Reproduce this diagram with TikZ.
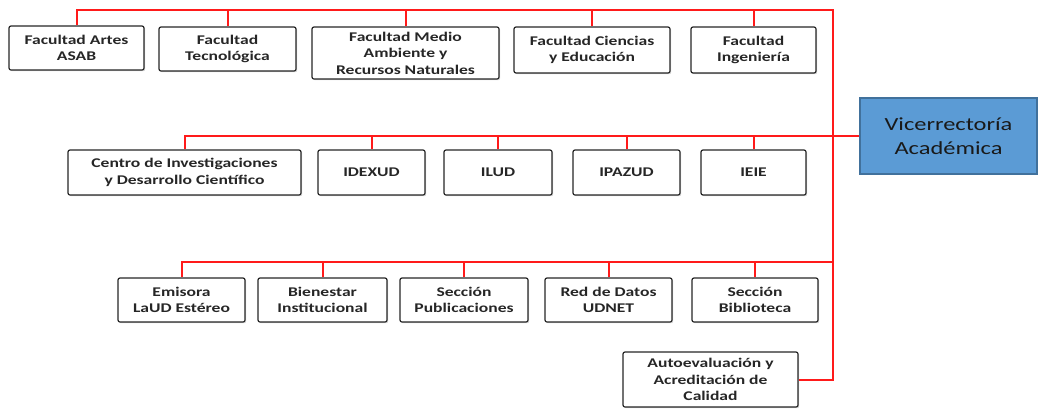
\documentclass[tikz,border=0pt]{standalone}
\usepackage{fontspec}
\newfontfamily\cajafont[FakeStretch=1.32]{Carlito}
\usetikzlibrary{shadows}
\definecolor{rojo}{HTML}{FF1A1A}
\definecolor{azul}{HTML}{5B9BD5}
\definecolor{azulborde}{HTML}{41719C}
\tikzset{
  caja/.style={draw=black!85,line width=1.2pt,rounded corners=2pt,fill=white,
    align=center,inner sep=0pt,text=black!85,
    font=\cajafont\bfseries\fontsize{13.3}{16.5}\selectfont,
    drop shadow={shadow xshift=1.2pt,shadow yshift=-1.2pt,opacity=.35}},
  linea/.style={rojo,line width=2pt}
}
\begin{document}
\begin{tikzpicture}[x=1pt,y=-1pt]
  \useasboundingbox (0,0) rectangle (1041,416);
  % Facultades
  \node[caja,minimum width=135,minimum height=44] (f1) at (76.5,48) {Facultad Artes\\ASAB};
  \node[caja,minimum width=137,minimum height=44] (f2) at (227.5,49) {Facultad\\Tecnológica};
  \node[caja,minimum width=187,minimum height=52] (f3) at (405.5,53) {Facultad Medio\\Ambiente y\\Recursos Naturales};
  \node[caja,minimum width=156,minimum height=46] (f4) at (592,50) {Facultad Ciencias\\y Educación};
  \node[caja,minimum width=125,minimum height=46] (f5) at (753.5,50) {Facultad\\Ingeniería};
  % Institutos
  \node[caja,minimum width=233,minimum height=45] (i1) at (184.5,172.5) {Centro de Investigaciones\\y Desarrollo Científico};
  \node[caja,minimum width=107,minimum height=45] (i2) at (371.5,172.5) {IDEXUD};
  \node[caja,minimum width=108,minimum height=45] (i3) at (498,172.5) {ILUD};
  \node[caja,minimum width=107,minimum height=45] (i4) at (626.5,172.5) {IPAZUD};
  \node[caja,minimum width=105,minimum height=45] (i5) at (753.5,172.5) {IEIE};
  % Unidades
  \node[caja,minimum width=127,minimum height=44] (u1) at (181.5,300) {Emisora\\LaUD Estéreo};
  \node[caja,minimum width=129,minimum height=44] (u2) at (322.5,300) {Bienestar\\Institucional};
  \node[caja,minimum width=128,minimum height=44] (u3) at (464,300) {Sección\\Publicaciones};
  \node[caja,minimum width=127,minimum height=44] (u4) at (608.5,300) {Red de Datos\\UDNET};
  \node[caja,minimum width=126,minimum height=44] (u5) at (755,300) {Sección\\Biblioteca};
  \node[caja,minimum width=175,minimum height=55] (a1) at (710.5,379.5) {Autoevaluación y\\Acreditación de\\Calidad};
  % Vicerrectoria
  \node[draw=azulborde,fill=azul,line width=1.2pt,minimum width=177,minimum height=76,
    align=center,inner sep=0pt,text=black!90,
    font=\cajafont\fontsize{18.5}{24}\selectfont] (vr) at (948.5,136) {Vicerrectoría\\Académica};
  % Lineas
  \coordinate (esq) at (833,10);
  \coordinate (b3) at (833,262);
  \draw[linea] (f1.north) |- (esq) -- (esq |- a1.east) -- (a1.east);
  \draw[linea] \foreach\i in {2,...,5} { (f\i.north) -- (f\i.north |- esq) };
  \draw[linea] (i1.north) |- (vr.west);
  \draw[linea] \foreach\i in {2,...,5} { (i\i.north) -- (i\i.north |- vr.west) };
  \draw[linea] (u1.north) |- (b3);
  \draw[linea] \foreach\i in {2,...,5} { (u\i.north) -- (u\i.north |- b3) };
\end{tikzpicture}
\end{document}
